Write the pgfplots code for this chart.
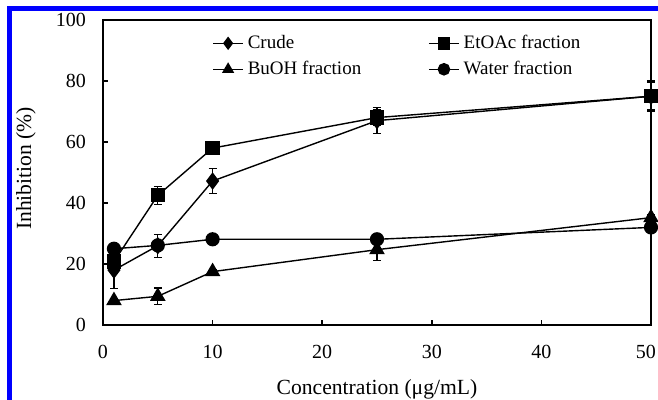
\documentclass[border=0pt]{standalone}
\usepackage{pgfplots}
\pgfplotsset{compat=1.18}
\usepackage{fontspec}
\setmainfont{Liberation Serif}
\pgfplotstableread{
x y e
1 18 6
5 26 3.8
10 47.2 4.2
25 67 4.2
50 75 5
}\crude
\pgfplotstableread{
x y e
1 20.8 1.5
5 42.5 3
10 58 1.8
25 68 2.5
50 75 4.5
}\etoac
\pgfplotstableread{
x y e
1 8 0.5
5 9.4 2.7
10 17.5 0.8
25 24.7 3.6
50 35.2 1
}\buoh
\pgfplotstableread{
x y e
1 25 0.8
5 26.1 0.8
10 28.1 0.5
25 28.1 0.5
50 32 0.8
}\water
\begin{document}
\begin{tikzpicture}[font=\rmfamily\fontsize{9pt}{11pt}\selectfont]
\path[use as bounding box] (-51.5pt,-37.5pt) rectangle (277.5pt,162.5pt);
\begin{axis}[
  at={(0,0)}, anchor=south west,
  scale only axis,
  width=274pt, height=152.5pt,
  xmin=0, xmax=50, ymin=0, ymax=100,
  xtick={0,10,20,30,40,50},
  xticklabels={0,10,20,30,40,\llap{5}0\hspace{2pt}},
  ytick={0,20,40,60,80,100},
  tick align=inside,
  xtick pos=bottom, ytick pos=left,
  major tick length=2.5pt,
  axis line style={line width=1pt},
  every tick/.style={line width=0.8pt, black},
  /pgf/number format/assume math mode=true,
  ticklabel style={font=\rmfamily\fontsize{10pt}{12pt}\selectfont},
  xticklabel style={yshift=-6.5pt},
  yticklabel style={xshift=-5pt},
  xlabel={Concentration (μg/mL)},
  ylabel={Inhibition (\%)},
  label style={font=\rmfamily\fontsize{10.8pt}{12pt}\selectfont},
  xlabel style={at={(axis description cs:0.5,0)}, anchor=base, yshift=-35pt},
  ylabel style={at={(axis description cs:0,0.5)}, anchor=center, xshift=2pt, yshift=38.5pt},
  legend style={draw=none, fill=none, at={(0.188,0.978)}, anchor=north west,
    font=\rmfamily\fontsize{9.5pt}{11pt}\selectfont, row sep=0.8pt,
    /tikz/every even column/.append style={column sep=31.5pt}},
  legend columns=2,
  legend cell align=left,
  legend image code/.code={
    \draw[mark repeat=2, mark phase=2, mark size=2.8pt] plot coordinates {(0pt,0pt) (7.5pt,0pt) (15pt,0pt)};},
  every axis plot/.append style={black, line width=0.7pt,
    mark options={solid, fill=black}},
  error bars/y dir=both, error bars/y explicit,
  error bars/error mark options={rotate=90, mark size=2pt, line width=0.6pt},
  error bars/error bar style={line width=0.6pt},
  clip=false,
]
\addplot[mark=diamond*, mark size=3.8pt] table[x=x, y=y, y error=e] {\crude};
\addlegendentry{Crude}
\addplot[mark=square*, mark size=3.2pt] table[x=x, y=y, y error=e] {\etoac};
\addlegendentry{EtOAc fraction}
\addplot[mark=triangle*, mark size=3.8pt] table[x=x, y=y, y error=e] {\buoh};
\addlegendentry{BuOH fraction}
\addplot[mark=*, mark size=3.2pt] table[x=x, y=y, y error=e] {\water};
\addlegendentry{Water fraction}
\end{axis}
\draw[blue, line width=2.5pt] (-46.75pt,-40pt) -- (-46.75pt,158.25pt) -- (280pt,158.25pt);
\end{tikzpicture}
\end{document}
